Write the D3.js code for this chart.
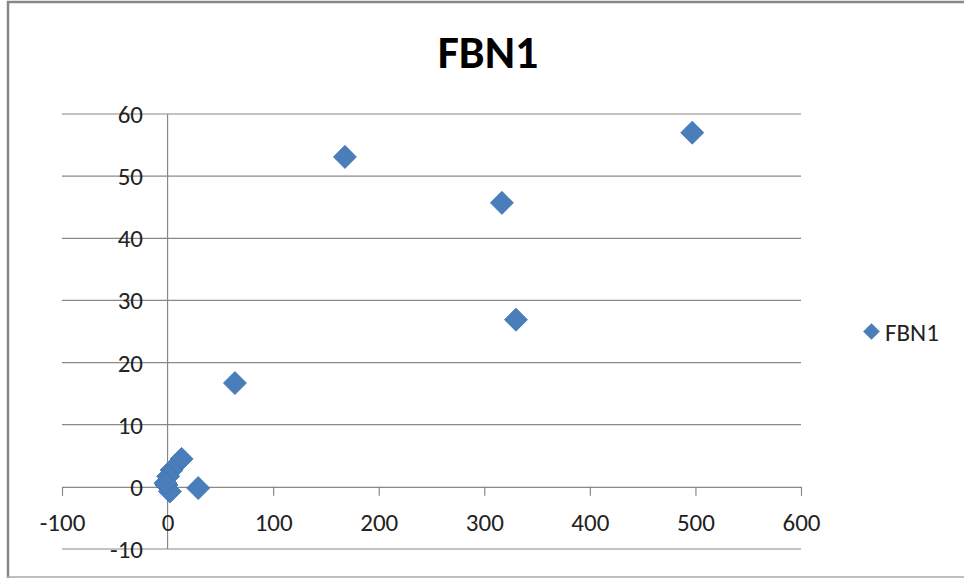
<!DOCTYPE html>
<html>
<head>
<meta charset="utf-8">
<script src="https://cdn.jsdelivr.net/npm/d3@7"></script>
<style>
  body { margin: 0; background: #fff; }
  text { font-family: Calibri, Carlito, "Open Sans", sans-serif; }
</style>
</head>
<body>
<svg id="chart" width="964" height="578"></svg>
<script>
// FBN1 scatter values
const seriesName = "FBN1";
const xValues = [497, 168, 316.7, 330, 63.8, 13.3, 3.8, 0.6, -1, 2.2, -2, 29];
const yValues = [57.0, 53.1, 45.7, 26.9, 16.7, 4.5, 2.7, 1.7, 0.3, -0.75, 0.6, -0.2];
const xTicks = [-100, 0, 100, 200, 300, 400, 500, 600];
const yTicks = [-10, 0, 10, 20, 30, 40, 50, 60];

const points = xValues.map((x, i) => ({x: x, y: yValues[i]}));

const svg = d3.select("#chart");
const gridColor = "#888888";
const markColor = "#4a7ebb";
const fontFam = 'Calibri, Carlito, "Open Sans", sans-serif';

// frame of the chart area
svg.append("line").attr("x1", 7).attr("x2", 964).attr("y1", 2).attr("y2", 2)
    .attr("stroke", "#888").attr("stroke-width", 2.5);
svg.append("line").attr("x1", 8).attr("x2", 8).attr("y1", 1).attr("y2", 578)
    .attr("stroke", "#888").attr("stroke-width", 2.5);
svg.append("line").attr("x1", 7).attr("x2", 964).attr("y1", 577).attr("y2", 577)
    .attr("stroke", "#aaa").attr("stroke-width", 1.5);

const x = d3.scaleLinear().domain([-100, 600]).range([62, 801]);
const y = d3.scaleLinear().domain([-10, 60]).range([549, 114]);

// horizontal gridlines
svg.append("g")
    .selectAll("line")
    .data(yTicks.filter(d => d !== 0))
    .enter().append("line")
    .attr("x1", x(-100)).attr("x2", x(600))
    .attr("y1", d => y(d)).attr("y2", d => y(d))
    .attr("stroke", gridColor).attr("stroke-width", 1.2);

// vertical axis at x = 0
svg.append("line")
    .attr("x1", x(0)).attr("x2", x(0))
    .attr("y1", y(60)).attr("y2", y(-10))
    .attr("stroke", gridColor).attr("stroke-width", 1.2);

// horizontal axis at y = 0, ticks pointing down
const xAxis = svg.append("g")
    .attr("transform", `translate(0,${y(0)})`)
    .call(d3.axisBottom(x).tickValues(xTicks).tickFormat(d => String(d))
        .tickSize(9).tickPadding(17).tickSizeOuter(0));
xAxis.select(".domain").attr("stroke", gridColor).attr("stroke-width", 1.2);
xAxis.selectAll(".tick line").attr("stroke", gridColor).attr("stroke-width", 1.2);
xAxis.selectAll(".tick text")
    .attr("font-size", 25).attr("fill", "#222")
    .style("font-family", fontFam);

// y tick labels, right aligned beside the axis
svg.append("g")
    .selectAll("text")
    .data(yTicks)
    .enter().append("text")
    .attr("x", 143)
    .attr("y", d => y(d))
    .attr("dy", "0.36em")
    .attr("text-anchor", "end")
    .attr("font-size", 25)
    .attr("fill", "#222")
    .text(d => String(d));

// diamond markers
const diamond = d3.symbol().type(d3.symbolSquare).size(265);
svg.append("g")
    .selectAll("path")
    .data(points)
    .enter().append("path")
    .attr("d", diamond)
    .attr("transform", d => `translate(${x(d.x)},${y(d.y)}) rotate(45)`)
    .attr("fill", markColor)
    .attr("stroke", "#3f74b3")
    .attr("stroke-width", 0.8);

// title
svg.append("text")
    .attr("x", 488).attr("y", 68)
    .attr("text-anchor", "middle")
    .attr("font-size", 46)
    .attr("font-weight", "bold")
    .attr("fill", "#000")
    .text(seriesName);

// legend
svg.append("path")
    .attr("d", d3.symbol().type(d3.symbolSquare).size(140))
    .attr("transform", "translate(871.5,331.5) rotate(45)")
    .attr("fill", markColor);
svg.append("text")
    .attr("x", 885).attr("y", 331.5)
    .attr("dy", "0.36em")
    .attr("font-size", 25)
    .attr("fill", "#222")
    .text(seriesName);
</script>
</body>
</html>
